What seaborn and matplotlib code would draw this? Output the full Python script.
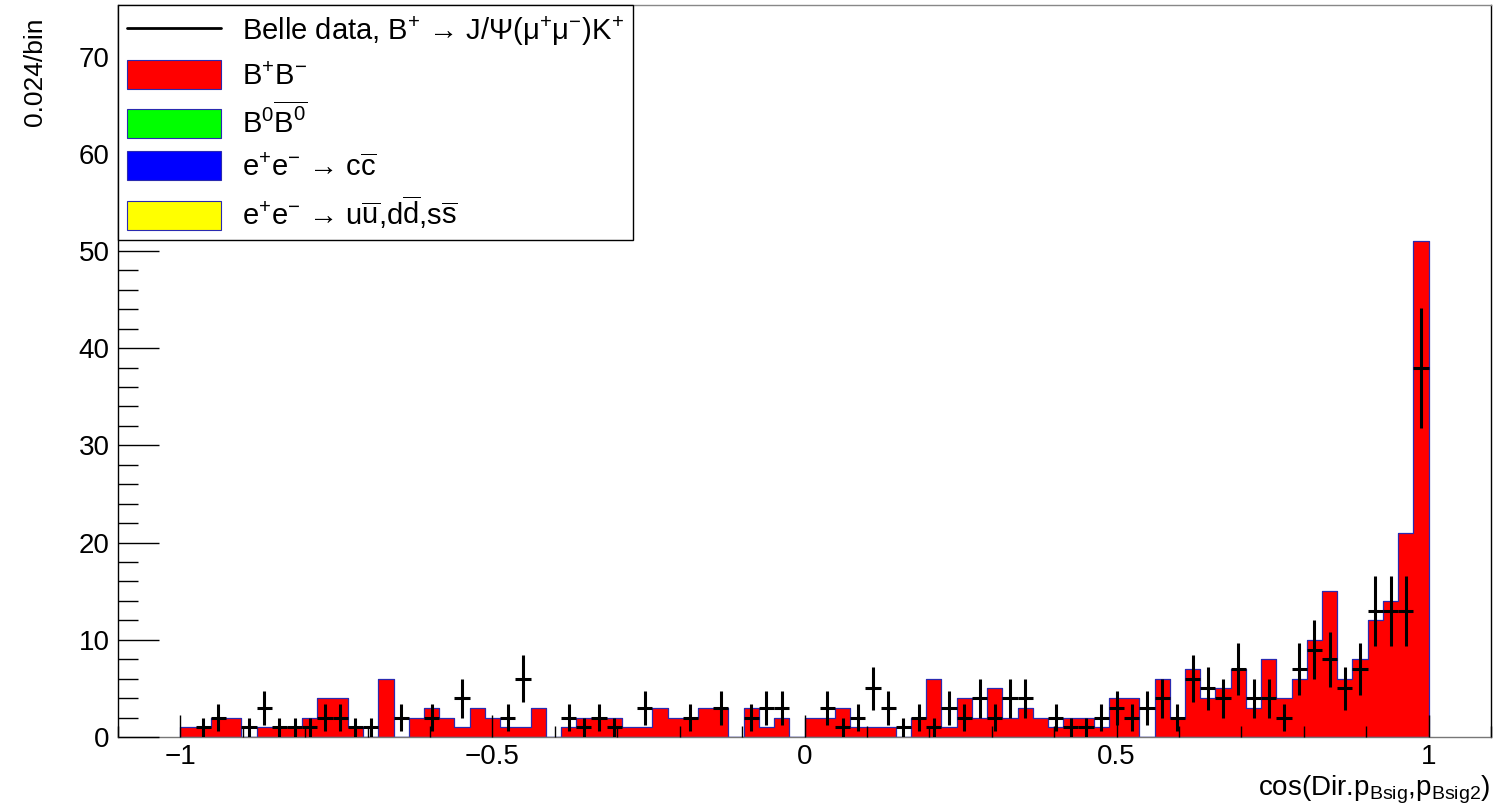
import numpy as np
import pandas as pd
import matplotlib
matplotlib.use("Agg")
import matplotlib.pyplot as plt
import seaborn as sns
from matplotlib.lines import Line2D
from matplotlib.patches import Patch
from matplotlib.ticker import MultipleLocator

# ---------------- data ----------------
n_bins = 82
x_min, x_max = -1.0, 1.0

# MC B+B- counts per bin (stacked, only non-empty component)
bpbm_counts = [1, 1, 2, 2, 0, 1, 1, 1, 2, 4, 4, 1, 0, 6, 0, 2, 3, 2, 1, 3,
               2, 1, 1, 3, 0, 1, 2, 2, 2, 1, 1, 3, 2, 2, 3, 3, 0, 3, 1, 2,
               0, 2, 2, 3, 1, 1, 1, 0, 2, 6, 1, 4, 2, 5, 2, 3, 2, 1, 2, 2,
               1, 4, 4, 0, 6, 2, 7, 4, 5, 7, 3, 8, 4, 6, 10, 15, 6, 8, 12, 14,
               21, 51]

# Belle data counts per bin
data_counts = [0, 1, 2, 0, 1, 3, 1, 1, 1, 2, 2, 1, 1, 0, 2, 0, 2, 0, 4, 0,
               0, 2, 6, 0, 0, 2, 1, 2, 1, 0, 3, 0, 0, 2, 0, 3, 0, 2, 3, 3,
               0, 0, 3, 1, 2, 5, 3, 1, 2, 1, 3, 2, 4, 2, 4, 4, 0, 2, 1, 1,
               2, 3, 2, 3, 4, 2, 6, 5, 4, 7, 4, 4, 2, 7, 9, 8, 5, 7, 13, 13,
               13, 38]

legend_labels = [
    r"Belle data, B$^{+}$ → J/Ψ(μ$^{+}$μ$^{-}$)K$^{+}$",
    r"B$^{+}$B$^{-}$",
    r"B$^{0}$$\overline{\mathrm{B}^{0}}$",
    r"e$^{+}$e$^{-}$ → c$\overline{\mathrm{c}}$",
    r"e$^{+}$e$^{-}$ → u$\overline{\mathrm{u}}$,d$\overline{\mathrm{d}}$,s$\overline{\mathrm{s}}$",
]
fill_colors = ["#ff0000", "#00ff00", "#0000ff", "#ffff00"]
x_ticks = [-1, -0.5, 0, 0.5, 1]
x_tick_labels = ["\u22121", "\u22120.5", "0", "0.5", "1"]
y_ticks = [0, 10, 20, 30, 40, 50, 60, 70]
x_label = r"cos(Dir.p$_{\mathrm{Bsig}}$,p$_{\mathrm{Bsig2}}$)"
y_label = "0.024/bin"

# ---------------- style ----------------
sns.set_style("white")
plt.rcParams["font.family"] = ["Liberation Sans", "DejaVu Sans"]
plt.rcParams["mathtext.fontset"] = "custom"
plt.rcParams["mathtext.rm"] = "Liberation Sans"
plt.rcParams["mathtext.it"] = "Liberation Sans:italic"
plt.rcParams["mathtext.bf"] = "Liberation Sans:bold"
plt.rcParams["text.color"] = "black"
plt.rcParams["xtick.color"] = "black"
plt.rcParams["ytick.color"] = "black"
plt.rcParams["xtick.labelcolor"] = "black"
plt.rcParams["ytick.labelcolor"] = "black"

edges = np.linspace(x_min, x_max, n_bins + 1)
width = edges[1] - edges[0]
centers = edges[:-1] + width / 2
bpbm = np.array(bpbm_counts, dtype=float)
data = np.array(data_counts, dtype=float)
mc_df = pd.DataFrame({"x": centers, "w": bpbm})

fig = plt.figure(figsize=(14.94, 8.10), dpi=100)
ax = fig.add_axes([118 / 1494, 73 / 810, 1373 / 1494, 732 / 810])

sns.histplot(data=mc_df, x="x", weights="w", bins=list(edges), element="step",
             fill=True, color="#ff0000", alpha=1.0, edgecolor="#2a2ab0",
             linewidth=0.9, ax=ax)

mask = data > 0
ax.errorbar(centers[mask], data[mask], xerr=width / 2, yerr=np.sqrt(data[mask]),
            fmt="none", ecolor="black", elinewidth=2.2, capsize=0, zorder=3)

ax.set_xlim(-1.1, 1.1)
ax.set_ylim(0, 75.3)
ax.set_xlabel("")
ax.set_ylabel("")

ax.set_xticks(x_ticks)
ax.set_xticklabels(x_tick_labels)
ax.xaxis.set_minor_locator(MultipleLocator(0.1))
ax.set_yticks(y_ticks)
ax.yaxis.set_minor_locator(MultipleLocator(2))
ax.tick_params(axis="x", which="major", direction="in", length=16, width=1,
               labelsize=20, pad=5, bottom=True, top=False, color="black")
ax.tick_params(axis="x", which="minor", direction="in", length=8, width=1,
               bottom=True, top=False, color="black")
ax.tick_params(axis="y", which="major", direction="in", length=29.5, width=1,
               labelsize=20, pad=6, left=True, right=False, color="black")
ax.tick_params(axis="y", which="minor", direction="in", length=14.5, width=1,
               left=True, right=False, color="black")
ax.set_axisbelow(False)
for s in ax.spines.values():
    s.set_color("black")
    s.set_linewidth(1.0)
ax.spines["top"].set_color("#888888")
ax.spines["bottom"].set_color("#777777")

# legend
handles = [Line2D([0], [0], color="black", lw=2)]
for c in fill_colors:
    handles.append(Patch(facecolor=c, edgecolor="#2a2ab0", linewidth=0.8))
leg = ax.legend(handles, legend_labels, loc="upper left",
                bbox_to_anchor=(0.0, 1.0), borderaxespad=0.0,
                fontsize=21, frameon=True, fancybox=False, shadow=False,
                framealpha=1.0, edgecolor="black", handlelength=3.2,
                handleheight=1.13, handletextpad=0.72, labelspacing=0.42,
                borderpad=0.32)
leg.get_frame().set_linewidth(1.0)
leg.set_zorder(10)

fig.text(35 / 1494, 1 - 18 / 810, y_label, rotation=90, ha="center",
         va="top", fontsize=19)
fig.text(1490 / 1494, 1 - 795 / 810, x_label, ha="right", va="baseline",
         fontsize=20)

fig.savefig("out.png", dpi=100)
